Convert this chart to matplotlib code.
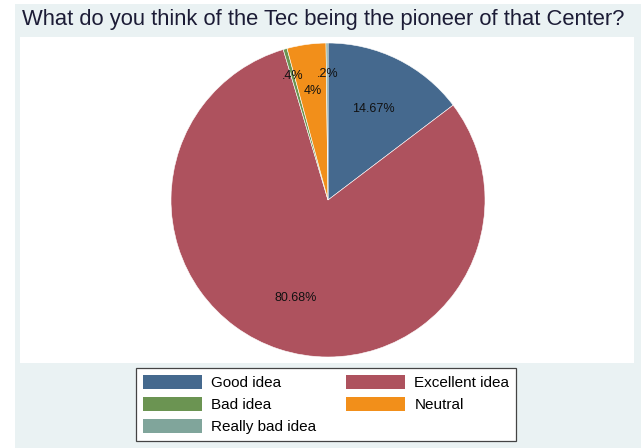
import numpy as np
import matplotlib.pyplot as plt
from matplotlib.patches import Patch

plt.rcParams['font.family'] = ['Liberation Sans', 'DejaVu Sans']

# survey answers (percent of respondents)
answers = ['Good idea', 'Excellent idea', 'Bad idea', 'Neutral', 'Really bad idea']
shares = [14.67, 80.68, 0.4, 4.0, 0.2]
share_labels = ['14.67%', '80.68%', '.4%', '4%', '.2%']

colors = ['#45698e', '#ae525e', '#6b9452', '#f28f1a', '#80a59b']
label_radius = [0.65, 0.66, 0.82, 0.70, 0.80]

W, H = 644, 448
fig = plt.figure(figsize=(W / 100, H / 100), dpi=100)
fig.patch.set_facecolor('white')

# graph region (light) and plot region (white)
bg = fig.add_axes([15 / W, 0, 626 / W, 444 / H], zorder=-2)
bg.set_facecolor('#eaf2f3')
bg.set_xticks([])
bg.set_yticks([])
for s in bg.spines.values():
    s.set_visible(False)
plot_region = fig.add_axes([20 / W, (H - 363) / H, 614 / W, 326 / H], zorder=-1)
plot_region.set_facecolor('white')
plot_region.set_xticks([])
plot_region.set_yticks([])
for s in plot_region.spines.values():
    s.set_visible(False)

fig.text(22 / W, 1 - 20 / H, 'What do you think of the Tec being the pioneer of that Center?',
         fontsize=15.8, color='#1c1c36', va='center', ha='left')

# pie: center ~(328, 200) px, radius ~157 px
cx, cy, r = 328, 200, 157
ax = fig.add_axes([(cx - r) / W, (H - cy - r) / H, 2 * r / W, 2 * r / H])
wedges, _ = ax.pie(shares, colors=colors, startangle=90, counterclock=False,
                   wedgeprops=dict(edgecolor='white', linewidth=0.4))
ax.set_xlim(-1, 1)
ax.set_ylim(-1, 1)

for w, lab, rr in zip(wedges, share_labels, label_radius):
    ang = np.deg2rad((w.theta1 + w.theta2) / 2)
    ax.text(rr * np.cos(ang), rr * np.sin(ang), lab, ha='center', va='center',
            fontsize=9, color='#111111')

# legend filled row by row, two columns
order = [0, 2, 4, 1, 3]
handles = [Patch(facecolor=colors[i], edgecolor='none') for i in order]
labels = [answers[i] for i in order]
leg = fig.legend(handles, labels, ncol=2, loc='center', bbox_to_anchor=(326 / W, 1 - 404.5 / H),
                 fontsize=11, frameon=True, fancybox=False, edgecolor='#444444',
                 handlelength=3.9, handleheight=1.05, handletextpad=0.6, columnspacing=1.9,
                 labelspacing=0.42, borderpad=0.45)
leg.get_frame().set_linewidth(0.9)
leg.get_frame().set_facecolor('white')
leg.get_frame().set_alpha(1)

fig.savefig('out.png', dpi=100, facecolor=fig.get_facecolor())
